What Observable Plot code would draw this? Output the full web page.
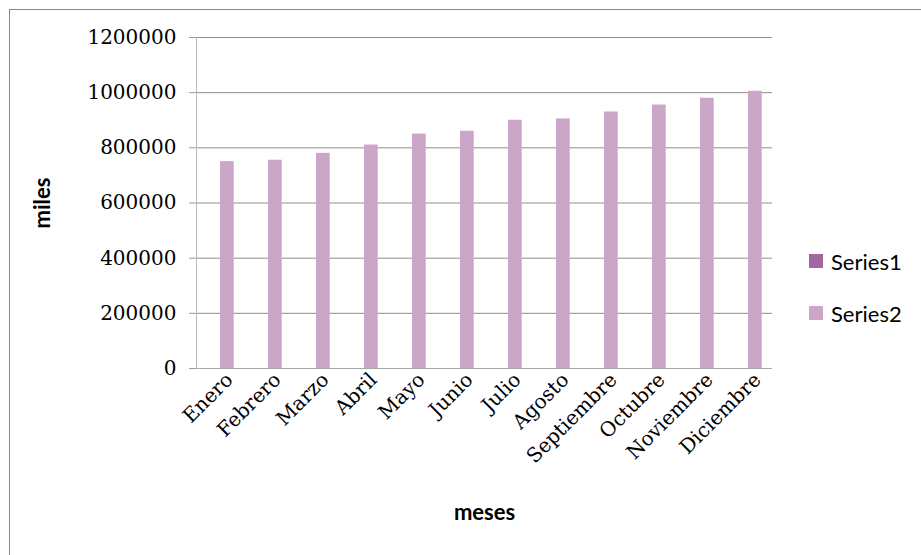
<!DOCTYPE html>
<html>
<head>
<meta charset="utf-8">
<script src="https://cdn.jsdelivr.net/npm/d3@7"></script>
<script src="https://cdn.jsdelivr.net/npm/@observablehq/plot@0.6"></script>
<style>
  html, body { margin: 0; padding: 0; background: #ffffff; }
  #chart { position: relative; width: 921px; height: 555px; overflow: hidden; background: #fff; }
  #chart .bl { position: absolute; left: 9px; top: 9px; width: 1px; height: 546px; background: #888; }
  #chart .bt { position: absolute; left: 9px; top: 9px; width: 912px; height: 1px; background: #888; }
  #legend { position: absolute; left: 809px; top: 248px; font-family: Lato, "Open Sans", sans-serif; font-size: 22px; color: #000; }
  #legend .item { display: flex; align-items: center; height: 26px; margin-bottom: 26px; }
  #legend .sw { width: 14px; height: 14px; margin-right: 8px; }
</style>
</head>
<body>
<div id="chart"><div class="bl"></div><div class="bt"></div></div>
<script>
const months = ["Enero","Febrero","Marzo","Abril","Mayo","Junio","Julio","Agosto","Septiembre","Octubre","Noviembre","Diciembre"];
const series1 = [1,2,3,4,5,6,7,8,9,10,11,12];
const series2 = [750000,755000,780000,810000,850000,860000,900000,905000,930000,955000,980000,1005000];
const seriesNames = ["Series1","Series2"];
const seriesColors = ["#A0679E","#CBA6C9"];
const yTicks = [0,200000,400000,600000,800000,1000000,1200000];
const xTitle = "meses";
const yTitle = "miles";

const W = 921, H = 555, mL = 196, mR = 149, mT = 37, mB = 187;
const band = (W - mL - mR) / months.length;
const barW = band / 3.5; // gap width 150%

const d1 = months.map((m, i) => ({month: m, value: series1[i]}));
const d2 = months.map((m, i) => ({month: m, value: series2[i]}));

const plot = Plot.plot({
  width: W, height: H,
  marginLeft: mL, marginRight: mR, marginTop: mT, marginBottom: mB,
  style: {fontFamily: "'DejaVu Serif', serif", fontSize: "20px", color: "#000", background: "transparent", overflow: "visible"},
  x: {type: "band", domain: months, padding: 0},
  y: {domain: [0, 1200000]},
  marks: [
    Plot.gridY(yTicks, {stroke: "#8e8e8e", strokeOpacity: 1}),
    Plot.barY(d1, {x: "month", y: "value", fill: seriesColors[0], insetLeft: 0.75 * barW, insetRight: band - 1.75 * barW}),
    Plot.barY(d2, {x: "month", y: "value", fill: seriesColors[1], insetLeft: 1.75 * barW, insetRight: 0.75 * barW}),
    Plot.ruleY([0], {stroke: "#a8a8a8"}),
    Plot.frame({anchor: "left", stroke: "#b8b8b8"}),
    Plot.axisY(yTicks, {tickSize: 7, tickPadding: 13, tickFormat: d3.format("d"), stroke: "#9a9a9a", fill: "#000", label: null}),
    Plot.axisX({tickSize: 0, tickRotate: -45, tickPadding: 8, dx: 9, fill: "#000", label: null}),
    Plot.text([yTitle], {frameAnchor: "left", dx: -154, rotate: -90, textAnchor: "middle", lineAnchor: "middle", fontFamily: "Lato, 'Open Sans', sans-serif", fontWeight: "bold", fontSize: 22, fill: "#000"}),
    Plot.text([xTitle], {frameAnchor: "bottom", dy: 144, textAnchor: "middle", lineAnchor: "middle", fontFamily: "Lato, 'Open Sans', sans-serif", fontWeight: "bold", fontSize: 22, fill: "#000"})
  ]
});
plot.style.position = "absolute";
plot.style.left = "0px";
plot.style.top = "0px";
const chart = document.getElementById("chart");
chart.appendChild(plot);

const legend = document.createElement("div");
legend.id = "legend";
seriesNames.forEach((name, i) => {
  const item = document.createElement("div");
  item.className = "item";
  const sw = document.createElement("div");
  sw.className = "sw";
  sw.style.background = seriesColors[i];
  const lab = document.createElement("span");
  lab.textContent = name;
  item.appendChild(sw);
  item.appendChild(lab);
  legend.appendChild(item);
});
chart.appendChild(legend);
</script>
</body>
</html>
